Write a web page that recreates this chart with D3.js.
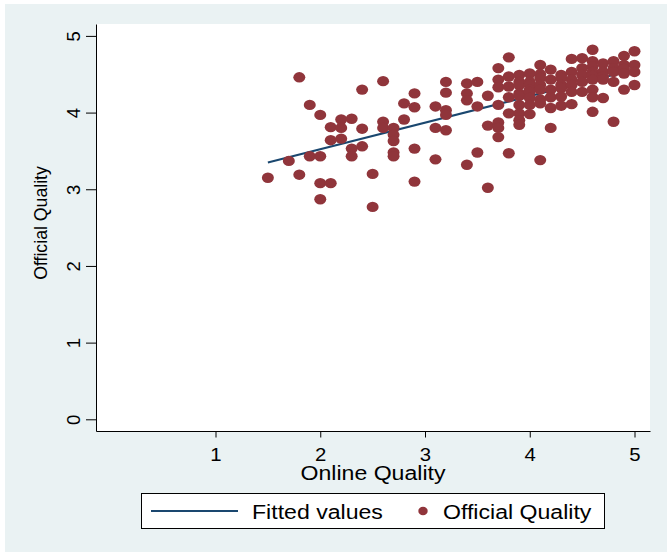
<!DOCTYPE html>
<html>
<head>
<meta charset="utf-8">
<script src="https://cdn.jsdelivr.net/npm/d3@7"></script>
<style>
  body { margin: 0; background: #fff; }
  svg { display: block; }
  text { font-family: "Liberation Sans", Arial, sans-serif; fill: #000; }
</style>
</head>
<body>
<div id="chart"></div>
<script>
// ----------------- DATA ----------------- //
const onlineQuality = [
  1.5, 1.7, 1.8, 1.8, 1.9, 1.9,
  2.0, 2.0, 2.0, 2.0, 2.1, 2.1, 2.1,
  2.2, 2.2, 2.2, 2.3, 2.3, 2.3,
  2.4, 2.4, 2.4, 2.5, 2.5,
  2.6, 2.6, 2.6, 2.7, 2.7, 2.7, 2.7, 2.7,
  2.8, 2.8, 2.9, 2.9, 2.9, 2.9,
  3.1, 3.1, 3.1, 3.2, 3.2, 3.2, 3.2, 3.2,
  3.4, 3.4, 3.4, 3.4, 3.5, 3.5, 3.5, 3.6, 3.6, 3.6,
  3.7, 3.7, 3.7, 3.7, 3.7, 3.7, 3.7,
  3.8, 3.8, 3.8, 3.8, 3.8, 3.8,
  3.9, 3.9, 3.9, 3.9, 3.9, 3.9, 3.9, 3.9, 3.9,
  4.0, 4.0, 4.0, 4.0, 4.0, 4.0, 4.0, 4.0,
  4.1, 4.1, 4.1, 4.1, 4.1, 4.1, 4.1, 4.1,
  4.2, 4.2, 4.2, 4.2, 4.2, 4.2,
  4.3, 4.3, 4.3, 4.3, 4.3, 4.3,
  4.4, 4.4, 4.4, 4.4, 4.4, 4.4,
  4.5, 4.5, 4.5, 4.5, 4.5,
  4.6, 4.6, 4.6, 4.6, 4.6, 4.6, 4.6, 4.6, 4.6,
  4.7, 4.7, 4.7, 4.7, 4.7,
  4.8, 4.8, 4.8, 4.8, 4.8,
  4.9, 4.9, 4.9, 4.9, 4.9,
  5.0, 5.0, 5.0, 5.0
];

const officialQuality = [
  3.15, 3.37, 4.46, 3.19, 4.10, 3.43,
  3.97, 3.43, 3.08, 2.87, 3.81, 3.64, 3.08,
  3.91, 3.80, 3.66, 3.92, 3.53, 3.43,
  4.30, 3.79, 3.56, 3.20, 2.77,
  4.41, 3.88, 3.80, 3.80, 3.71, 3.63, 3.48, 3.43,
  4.12, 3.91, 4.25, 4.07, 3.53, 3.10,
  4.08, 3.80, 3.39, 4.40, 4.26, 4.03, 3.97, 3.77,
  4.38, 4.25, 4.16, 3.32, 4.40, 4.08, 3.48, 4.22, 3.83, 3.02,
  4.58, 4.43, 4.33, 4.10, 3.87, 3.80, 3.68,
  4.72, 4.47, 4.34, 4.20, 3.99, 3.47,
  4.49, 4.40, 4.36, 4.25, 4.22, 4.10, 3.99, 3.90, 3.84,
  4.51, 4.40, 4.36, 4.30, 4.27, 4.19, 4.10, 3.98,
  4.62, 4.50, 4.45, 4.36, 4.30, 4.17, 4.12, 3.38,
  4.56, 4.43, 4.30, 4.20, 4.06, 3.80,
  4.49, 4.45, 4.36, 4.32, 4.21, 4.09,
  4.70, 4.53, 4.43, 4.36, 4.27, 4.11,
  4.71, 4.58, 4.49, 4.40, 4.27,
  4.82, 4.67, 4.60, 4.53, 4.48, 4.43, 4.30, 4.20, 4.01,
  4.64, 4.53, 4.47, 4.43, 4.19,
  4.67, 4.58, 4.53, 4.40, 3.88,
  4.74, 4.62, 4.57, 4.51, 4.30,
  4.80, 4.62, 4.53, 4.36
];

// fitted (linear fit) values at the ends of the x range
const fittedX = [1.5, 5.0];
const fittedY = [3.35, 4.56];

const xTicks = [1, 2, 3, 4, 5];
const yTicks = [0, 1, 2, 3, 4, 5];

const seriesNames = ['Fitted values', 'Official Quality'];
const xTitle = 'Online Quality';
const yTitle = 'Official Quality';

// ----------------- LAYOUT ----------------- //
const width = 667, height = 552;
const plot = { left: 96, right: 650, top: 24, bottom: 431 };
const stretch = 1.1;   // horizontal text stretch of the original picture
const navy = '#1A476F', maroon = '#90353B';

const svg = d3.select('#chart').append('svg')
    .attr('width', width)
    .attr('height', height);

// graph region
svg.append('rect')
    .attr('x', 5).attr('y', 4)
    .attr('width', width - 5).attr('height', height - 4)
    .attr('fill', '#EAF2F3');

svg.append('rect')
    .attr('x', plot.left).attr('y', plot.top)
    .attr('width', plot.right - plot.left)
    .attr('height', plot.bottom - plot.top)
    .attr('fill', '#fff');

// ----------------- SCALES ----------------- //
const x = d3.scaleLinear().domain([1, 5]).range([215.5, 634.5]);
x.domain([x.invert(plot.left), x.invert(plot.right)]).range([plot.left, plot.right]);

const y = d3.scaleLinear().domain([0, 5]).range([419.3, 35.9]);
y.domain([y.invert(plot.bottom), y.invert(plot.top)]).range([plot.bottom, plot.top]);

// ----------------- AXES ----------------- //
const xAxis = svg.append('g')
    .attr('transform', 'translate(0,' + plot.bottom + ')')
    .call(d3.axisBottom(x).tickValues(xTicks).tickSize(6.5).tickSizeOuter(0).tickFormat(d3.format('d')));

xAxis.selectAll('text')
    .attr('y', 0).attr('dy', 0)
    .attr('transform', 'translate(0,29.5) scale(' + stretch + ',1)')
    .style('font-size', '18.5px');

const yAxis = svg.append('g')
    .attr('transform', 'translate(' + plot.left + ',0)')
    .call(d3.axisLeft(y).tickValues(yTicks).tickSize(10).tickSizeOuter(0).tickFormat(d3.format('d')));

yAxis.selectAll('text')
    .attr('x', 0).attr('y', -16.5).attr('dy', 0)
    .attr('text-anchor', 'middle')
    .attr('transform', 'rotate(-90)')
    .style('font-size', '18.5px');

svg.selectAll('.domain, .tick line')
    .attr('stroke', '#000')
    .attr('stroke-width', 1);

svg.selectAll('.tick text').style('fill', '#000');

// axis titles
svg.append('text')
    .attr('transform', 'translate(' + ((plot.left + plot.right) / 2) + ',480) scale(' + stretch + ',1)')
    .attr('text-anchor', 'middle')
    .style('font-size', '21px')
    .text(xTitle);

svg.append('text')
    .attr('transform', 'translate(47,223) rotate(-90)')
    .attr('text-anchor', 'middle')
    .style('font-size', '17.7px')
    .text(yTitle);

// ----------------- MARKS ----------------- //
const points = onlineQuality.map((v, i) => ({ x: v, y: officialQuality[i] }));
const fitted = fittedX.map((v, i) => ({ x: v, y: fittedY[i] }));

svg.append('path')
    .datum(fitted)
    .attr('fill', 'none')
    .attr('stroke', navy)
    .attr('stroke-width', 2)
    .attr('d', d3.line().x(d => x(d.x)).y(d => y(d.y)));

svg.append('g')
    .selectAll('ellipse')
    .data(points)
    .join('ellipse')
    .attr('cx', d => x(d.x))
    .attr('cy', d => y(d.y))
    .attr('rx', 6)
    .attr('ry', 5.2)
    .attr('fill', maroon);

// ----------------- LEGEND ----------------- //
const legend = svg.append('g');

legend.append('rect')
    .attr('x', 141.5).attr('y', 493.5)
    .attr('width', 463).attr('height', 35)
    .attr('fill', '#fff')
    .attr('stroke', '#000')
    .attr('stroke-width', 1);

legend.append('line')
    .attr('x1', 151).attr('x2', 238)
    .attr('y1', 511).attr('y2', 511)
    .attr('stroke', navy)
    .attr('stroke-width', 2);

legend.append('text')
    .attr('transform', 'translate(252,518.5) scale(' + stretch + ',1)')
    .style('font-size', '21px')
    .text(seriesNames[0]);

legend.append('ellipse')
    .attr('cx', 423).attr('cy', 511)
    .attr('rx', 4.7).attr('ry', 4.3)
    .attr('fill', maroon);

legend.append('text')
    .attr('transform', 'translate(443,518.5) scale(' + stretch + ',1)')
    .style('font-size', '21px')
    .text(seriesNames[1]);
</script>
</body>
</html>
